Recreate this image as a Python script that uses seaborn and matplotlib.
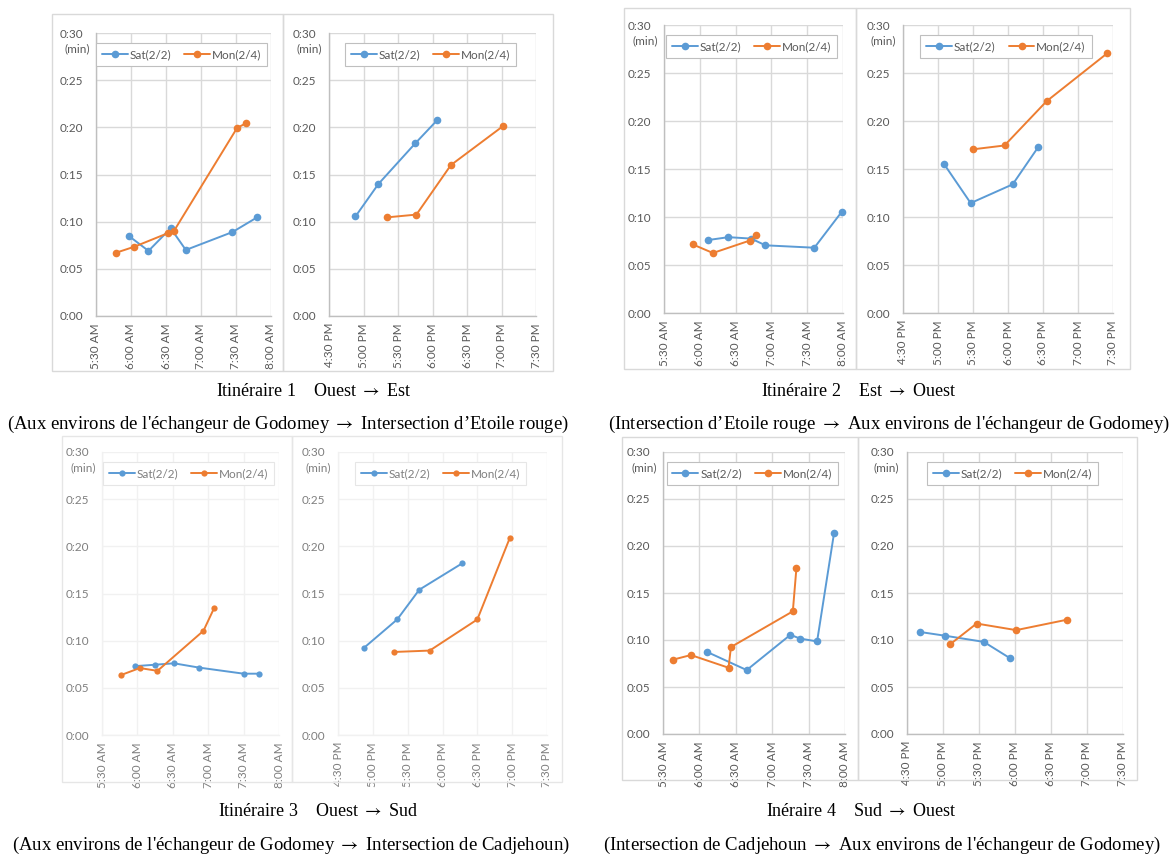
import matplotlib
matplotlib.use("Agg")
import pandas as pd
import matplotlib.pyplot as plt
from matplotlib.patches import Rectangle
from matplotlib.ticker import FixedLocator, FuncFormatter
import seaborn as sns

sns.set_style("white")
plt.rcParams["font.family"] = ["Lato", "DejaVu Sans"]
plt.rcParams["mathtext.fontset"] = "stix"

# ----------------------------------------------------------------------------
# data: departure time (hh:mm, 24h) and travel time (minutes)
# ----------------------------------------------------------------------------
DAYS = ["Sat(2/2)", "Mon(2/4)"]

r1_sat_t = ["5:58", "6:15", "6:34", "6:47", "7:27", "7:48", "16:53", "17:13", "17:45", "18:04"]
r1_sat_v = [8.5, 6.9, 9.3, 7.0, 8.9, 10.45, 10.55, 14.0, 18.3, 20.75]
r1_mon_t = ["5:47", "6:03", "6:32", "6:37", "7:31", "7:39", "17:20", "17:46", "18:16", "19:01"]
r1_mon_v = [6.7, 7.35, 8.8, 9.05, 19.95, 20.45, 10.45, 10.75, 16.0, 20.1]

r2_sat_t = ["6:07", "6:24", "6:43", "6:55", "7:36", "7:59", "17:05", "17:28", "18:04", "18:26"]
r2_sat_v = [7.6, 7.9, 7.75, 7.05, 6.8, 10.55, 15.55, 11.45, 13.4, 17.3]
r2_mon_t = ["5:54", "6:11", "6:42", "6:47", "17:30", "17:57", "18:33", "19:25"]
r2_mon_v = [7.15, 6.25, 7.55, 8.1, 17.05, 17.45, 22.05, 27.05]

r3_sat_t = ["5:58", "6:15", "6:31", "6:52", "7:30", "7:43", "16:52", "17:21", "17:40", "18:17"]
r3_sat_v = [7.3, 7.45, 7.6, 7.15, 6.5, 6.5, 9.2, 12.25, 15.4, 18.2]
r3_mon_t = ["5:46", "6:02", "6:17", "6:56", "7:05", "17:18", "17:49", "18:30", "18:58"]
r3_mon_v = [6.35, 7.1, 6.8, 11.05, 13.45, 8.8, 8.95, 12.25, 20.9]

r4_sat_t = ["6:06", "6:39", "7:15", "7:23", "7:37", "7:51", "16:41", "17:02", "17:34", "17:56"]
r4_sat_v = [8.75, 6.8, 10.55, 10.15, 9.85, 21.4, 10.85, 10.45, 9.8, 8.05]
r4_mon_t = ["5:38", "5:53", "6:24", "6:26", "7:17", "7:20", "17:06", "17:28", "18:01", "18:43"]
r4_mon_v = [7.9, 8.4, 7.05, 9.25, 13.05, 17.7, 9.55, 11.75, 11.05, 12.15]

ARROW = r"$\rightarrow$"
titles = [
    f"Itinéraire 1    Ouest {ARROW} Est",
    f"Itinéraire 2    Est {ARROW} Ouest",
    f"Itinéraire 3    Ouest {ARROW} Sud",
    f"Inéraire 4    Sud {ARROW} Ouest",
]
subtitles = [
    f"(Aux environs de l'échangeur de Godomey {ARROW} Intersection d\u2019Etoile rouge)",
    f"(Intersection d\u2019Etoile rouge {ARROW} Aux environs de l'échangeur de Godomey)",
    f"(Aux environs de l'échangeur de Godomey {ARROW} Intersection de Cadjehoun)",
    f"(Intersection de Cadjehoun {ARROW} Aux environs de l'échangeur de Godomey)",
]

AM_TICKS = ["5:30", "6:00", "6:30", "7:00", "7:30", "8:00"]
PM_TICKS = ["16:30", "17:00", "17:30", "18:00", "18:30", "19:00", "19:30"]
Y_TICKS = [0, 5, 10, 15, 20, 25, 30]

PALETTE = {"Sat(2/2)": "#5B9BD5", "Mon(2/4)": "#ED7D31"}


def to_min(s):
    h, m = s.split(":")
    return int(h) * 60 + int(m)


def clock_fmt(v, pos):
    h, m = int(v // 60), int(round(v % 60))
    h12 = h if h <= 12 else h - 12
    return f"{h12}:{m:02d} {'AM' if h < 12 else 'PM'}"


routes = []
for sat_t, sat_v, mon_t, mon_v in [
    (r1_sat_t, r1_sat_v, r1_mon_t, r1_mon_v),
    (r2_sat_t, r2_sat_v, r2_mon_t, r2_mon_v),
    (r3_sat_t, r3_sat_v, r3_mon_t, r3_mon_v),
    (r4_sat_t, r4_sat_v, r4_mon_t, r4_mon_v),
]:
    df = pd.concat([
        pd.DataFrame({"t": [to_min(s) for s in sat_t], "v": sat_v, "day": DAYS[0]}),
        pd.DataFrame({"t": [to_min(s) for s in mon_t], "v": mon_v, "day": DAYS[1]}),
    ], ignore_index=True)
    routes.append(df)

# ----------------------------------------------------------------------------
# layout (pixels in a 1174x856 canvas)
# ----------------------------------------------------------------------------
W, H = 1174, 856
AX_PX = [
    [(96, 33, 271, 316), (329, 33, 536, 316)],
    [(664, 25, 843, 313), (903, 25, 1113, 313)],
    [(102, 452, 279, 735), (338, 452, 547, 735)],
    [(663, 452, 845, 734), (907, 452, 1123, 734)],
]
FRAME_PX = [
    [(52, 14, 283, 371), (283, 14, 553, 371)],
    [(624, 8, 856, 369), (856, 8, 1130, 369)],
    [(62, 436, 292, 782), (292, 436, 562, 782)],
    [(622, 437, 858, 780), (858, 437, 1137, 780)],
]
TITLE_XY = [(314, 391), (859, 391), (318, 811), (861, 811)]
SUB_XY = [(288, 424), (889, 424), (291, 845), (882, 845)]


def fig_box(x0, y0, x1, y1):
    return [x0 / W, 1 - y1 / H, (x1 - x0) / W, (y1 - y0) / H]


fig = plt.figure(figsize=(W / 100, H / 100), dpi=100)
fig.patch.set_facecolor("white")

for i, df in enumerate(routes):
    faded = i == 2
    txt_c = "#7F7F7F" if faded else "#595959"
    grid_c = "#F1F1F1" if faded else "#D9D9D9"
    frame_c = "#E6E6E6" if faded else "#D9D9D9"

    for j, period in enumerate(["am", "pm"]):
        fx0, fy0, fx1, fy1 = FRAME_PX[i][j]
        fig.add_artist(Rectangle((fx0 / W, 1 - fy1 / H), (fx1 - fx0) / W, (fy1 - fy0) / H,
                                 transform=fig.transFigure, fill=False,
                                 edgecolor=frame_c, linewidth=1.0))

        ax = fig.add_axes(fig_box(*AX_PX[i][j]))
        sub = df[df["t"] < 720] if period == "am" else df[df["t"] >= 720]
        sns.lineplot(data=sub, x="t", y="v", hue="day", hue_order=DAYS, palette=PALETTE,
                     marker="o", markersize=4.5 if faded else 5.5, markeredgewidth=0,
                     linewidth=1.4, estimator=None, sort=True, ax=ax)

        ticks = [to_min(s) for s in (AM_TICKS if period == "am" else PM_TICKS)]
        ax.set_xlim(ticks[0], ticks[-1])
        ax.set_ylim(0, 30)
        ax.xaxis.set_major_locator(FixedLocator(ticks))
        ax.xaxis.set_major_formatter(FuncFormatter(clock_fmt))
        ax.yaxis.set_major_locator(FixedLocator(Y_TICKS))
        ax.yaxis.set_major_formatter(FuncFormatter(lambda v, p: f"0:{int(v):02d}"))
        ax.grid(True, color=grid_c, linewidth=1.0)
        ax.set_axisbelow(True)
        ax.set_xlabel("")
        ax.set_ylabel("")
        for side in ["top", "right"]:
            ax.spines[side].set_visible(False)
        for side in ["left", "bottom"]:
            ax.spines[side].set_color(grid_c if faded else "#BFBFBF")
            ax.spines[side].set_linewidth(1.0)
        ax.tick_params(axis="x", rotation=90, length=0, pad=5, labelsize=8.5, labelcolor=txt_c)
        ax.tick_params(axis="y", length=0, pad=9, labelsize=8.5, labelcolor=txt_c)
        for lab in ax.get_xticklabels():
            lab.set_verticalalignment("top")
        for line in ax.get_lines():
            line.set_clip_on(False)

        ax.text(-0.035, 0.945, "(min)", transform=ax.transAxes, ha="right", va="center",
                fontsize=8.5, color=txt_c)

        handles, labels = ax.get_legend_handles_labels()
        leg = ax.legend(handles, labels, loc="upper center", bbox_to_anchor=(0.49, 0.985),
                        ncol=2, frameon=True, fancybox=False, fontsize=8.5,
                        handlelength=2.2, handletextpad=0.15, columnspacing=1.1,
                        borderpad=0.5, framealpha=1)
        leg.get_frame().set_edgecolor(frame_c if faded else "#BFBFBF")
        leg.get_frame().set_linewidth(0.8)
        for t in leg.get_texts():
            t.set_color(txt_c)

    fig.text(TITLE_XY[i][0] / W, 1 - TITLE_XY[i][1] / H, titles[i], ha="center", va="center",
             fontsize=13, family=["Liberation Serif", "DejaVu Serif"], color="black")
    fig.text(SUB_XY[i][0] / W, 1 - SUB_XY[i][1] / H, subtitles[i], ha="center", va="center",
             fontsize=13.5, family=["Liberation Serif", "DejaVu Serif"], color="black")

plt.savefig("out.png", dpi=100)
plt.close()
